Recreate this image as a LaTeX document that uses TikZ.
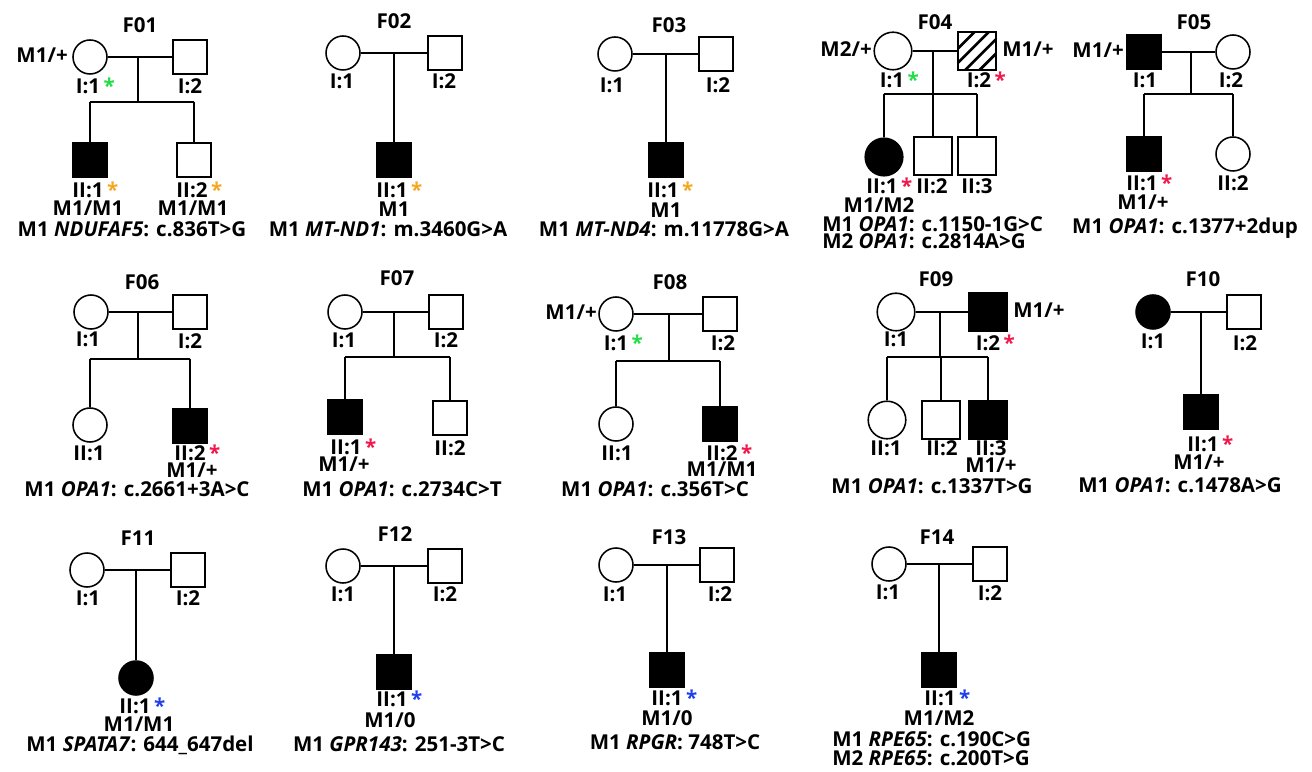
\documentclass[tikz,border=0pt]{standalone}
\usepackage{fontspec}
\setmainfont{Open Sans}
\usepackage{tikz}

\definecolor{astgreen}{HTML}{22DD44}
\definecolor{astorange}{HTML}{F5A623}
\definecolor{astred}{HTML}{F0184A}
\definecolor{astblue}{HTML}{1F3FEE}

% coloured star after an individual's number
\newcommand{\mkast}[1]{\rlap{\,\textcolor{#1}{\raisebox{-0.05ex}{*}}}}

\tikzset{
  ind/.style={draw, line width=1.1pt, inner sep=0pt, minimum size=8.5mm},
  male/.style={ind, rectangle},
  female/.style={ind, circle},
  aff/.style={fill=black},
  big/.style={minimum size=9.4mm},
  hatch/.style={path picture={
    \foreach \d in {-5.4,-1.8,1.8,5.4}
      \draw[line width=1.9pt] ([xshift=\d mm]path picture bounding box.center) ++(-5mm,-5mm) -- ++(10mm,10mm);
  }},
  lab/.style={inner sep=0pt, text height=0.72em, text depth=0pt, font=\bfseries\fontsize{14.6}{14.6}\selectfont},
  link/.style={line width=0.8pt},
}

\begin{document}
\begin{tikzpicture}[x=0.25mm, y=-0.25mm]
    \useasboundingbox (0,0) rectangle (1312,772);

    % F01
    \node[lab] (f01t) at (140,27) {F01};
    \node[female] (f01a) at (90,57) {};
    \node[male] (f01b) at (190,57) {};
    \coordinate (f01m) at (138,57);
    \coordinate (f01s) at (138,102);
    \node[male,aff] (f01c) at (90,160) {};
    \node[male] (f01d) at (194,160) {};
    \draw[link] (f01a) -- (f01b);
    \draw[link] (f01m) -- (f01s);
    \draw[link] (f01c |- f01s) -- (f01d |- f01s);
    \draw[link] (f01c |- f01s) -- (f01c);
    \draw[link] (f01d |- f01s) -- (f01d);
    \node[lab,anchor=east] (f01ag) at (68,57) {M1/+};
    \node[lab] (f01al) at (88,88) {I:1\mkast{astgreen}};
    \node[lab] (f01bl) at (190,88) {I:2};
    \node[lab] (f01cl) at (88,192) {II:1\mkast{astorange}};
    \node[lab] (f01dl) at (192,192) {II:2\mkast{astorange}};
    \node[lab] (f01cg) at (88,210) {M1/M1};
    \node[lab] (f01dg) at (193,210) {M1/M1};
    \node[lab] (f01v) at (132,231) {M1 \textit{NDUFAF5}: c.836T>G};

    % F02
    \node[lab] (f02t) at (394,23) {F02};
    \node[female] (f02a) at (343,53) {};
    \node[male] (f02b) at (445,53) {};
    \coordinate (f02m) at (394,53);
    \node[male,aff] (f02c) at (394,160) {};
    \draw[link] (f02a) -- (f02b);
    \draw[link] (f02m) -- (f02c);
    \node[lab] (f02al) at (342,83) {I:1};
    \node[lab] (f02bl) at (444,83) {I:2};
    \node[lab] (f02cl) at (392,192) {II:1\mkast{astorange}};
    \node[lab] (f02cg) at (394,211) {M1};
    \node[lab] (f02v) at (388,231) {M1 \textit{MT-ND1}: m.3460G>A};

    % F03
    \node[lab] (f03t) at (669,27) {F03};
    \node[female] (f03a) at (615,54) {};
    \node[male] (f03b) at (716,54) {};
    \coordinate (f03m) at (666,54);
    \node[male,aff] (f03c) at (666,160) {};
    \draw[link] (f03a) -- (f03b);
    \draw[link] (f03m) -- (f03c);
    \node[lab] (f03al) at (612,87) {I:1};
    \node[lab] (f03bl) at (718,87) {I:2};
    \node[lab] (f03cl) at (663,192) {II:1\mkast{astorange}};
    \node[lab] (f03cg) at (666,212) {M1};
    \node[lab] (f03v) at (664,231) {M1 \textit{MT-ND4}: m.11778G>A};

    % F04
    \node[lab] (f04t) at (935,24) {F04};
    \node[female,big] (f04a) at (893,51) {};
    \node[male,big,hatch] (f04b) at (977,51) {};
    \coordinate (f04m) at (933,51);
    \coordinate (f04s) at (933,94);
    \node[female,big,aff] (f04c) at (884,157) {};
    \node[male,big] (f04d) at (933,156) {};
    \node[male,big] (f04e) at (977,156) {};
    \draw[link] (f04a) -- (f04b);
    \draw[link] (f04m) -- (f04d);
    \draw[link] (f04c |- f04s) -- (f04e |- f04s);
    \draw[link] (f04c |- f04s) -- (f04c);
    \draw[link] (f04e |- f04s) -- (f04e);
    \node[lab,anchor=east] (f04ag) at (872,51) {M2/+};
    \node[lab,anchor=west] (f04bg) at (1002,51) {M1/+};
    \node[lab] (f04al) at (892,82) {I:1\mkast{astgreen}};
    \node[lab] (f04bl) at (979,82) {I:2\mkast{astred}};
    \node[lab] (f04cl) at (882,188) {II:1\mkast{astred}};
    \node[lab] (f04dl) at (932,188) {II:2};
    \node[lab] (f04el) at (977,188) {II:3};
    \node[lab] (f04cg) at (879,207) {M1/M2};
    \node[lab,anchor=west] (f04v) at (822,226) {M1 \textit{OPA1}: c.1150-1G>C};
    \node[lab,anchor=west] (f04w) at (822,243) {M2 \textit{OPA1}: c.2814A>G};

    % F05
    \node[lab] (f05t) at (1194,24) {F05};
    \node[male,aff] (f05a) at (1144,52) {};
    \node[female] (f05b) at (1233,52) {};
    \coordinate (f05m) at (1191,52);
    \coordinate (f05s) at (1191,94);
    \node[male,aff] (f05c) at (1144,154) {};
    \node[female] (f05d) at (1233,154) {};
    \draw[link] (f05a) -- (f05b);
    \draw[link] (f05m) -- (f05s);
    \draw[link] (f05c |- f05s) -- (f05d |- f05s);
    \draw[link] (f05c |- f05s) -- (f05c);
    \draw[link] (f05d |- f05s) -- (f05d);
    \node[lab,anchor=east] (f05ag) at (1124,52) {M1/+};
    \node[lab] (f05al) at (1145,82) {I:1};
    \node[lab] (f05bl) at (1231,82) {I:2};
    \node[lab] (f05cl) at (1142,185) {II:1\mkast{astred}};
    \node[lab] (f05dl) at (1233,185) {II:2};
    \node[lab] (f05cg) at (1143,204) {M1/+};
    \node[lab] (f05v) at (1185,228) {M1 \textit{OPA1}: c.1377+2dup};

    % F06
    \node[lab] (f06t) at (142,284) {F06};
    \node[female] (f06a) at (91,312) {};
    \node[male] (f06b) at (190,312) {};
    \coordinate (f06m) at (138,312);
    \coordinate (f06s) at (138,359);
    \node[female] (f06c) at (90,425) {};
    \node[male,aff] (f06d) at (190,426) {};
    \draw[link] (f06a) -- (f06b);
    \draw[link] (f06m) -- (f06s);
    \draw[link] (f06c |- f06s) -- (f06d |- f06s);
    \draw[link] (f06c |- f06s) -- (f06c);
    \draw[link] (f06d |- f06s) -- (f06d);
    \node[lab] (f06al) at (88,341) {I:1};
    \node[lab] (f06bl) at (190,343) {I:2};
    \node[lab] (f06cl) at (89,455) {II:1};
    \node[lab] (f06dl) at (190,455) {II:2\mkast{astred}};
    \node[lab] (f06dg) at (192,472) {M1/+};
    \node[lab] (f06v) at (137,491) {M1 \textit{OPA1}: c.2661+3A>C};

    % F07
    \node[lab] (f07t) at (397,280) {F07};
    \node[female] (f07a) at (345,312) {};
    \node[male] (f07b) at (446,312) {};
    \coordinate (f07m) at (394,312);
    \coordinate (f07s) at (394,357);
    \node[male,aff] (f07c) at (345,417) {};
    \node[male] (f07d) at (450,418) {};
    \draw[link] (f07a) -- (f07b);
    \draw[link] (f07m) -- (f07s);
    \draw[link] (f07c |- f07s) -- (f07d |- f07s);
    \draw[link] (f07c |- f07s) -- (f07c);
    \draw[link] (f07d |- f07s) -- (f07d);
    \node[lab] (f07al) at (344,342) {I:1};
    \node[lab] (f07bl) at (446,342) {I:2};
    \node[lab] (f07cl) at (346,449) {II:1\mkast{astred}};
    \node[lab] (f07dl) at (450,450) {II:2};
    \node[lab] (f07cg) at (344,466) {M1/+};
    \node[lab] (f07v) at (402,491) {M1 \textit{OPA1}: c.2734C>T};

    % F08
    \node[lab] (f08t) at (670,284) {F08};
    \node[female] (f08a) at (616,314) {};
    \node[male] (f08b) at (720,314) {};
    \coordinate (f08m) at (669,314);
    \coordinate (f08s) at (669,361);
    \node[female] (f08c) at (616,424) {};
    \node[male,aff] (f08d) at (720,424) {};
    \draw[link] (f08a) -- (f08b);
    \draw[link] (f08m) -- (f08s);
    \draw[link] (f08c |- f08s) -- (f08d |- f08s);
    \draw[link] (f08c |- f08s) -- (f08c);
    \draw[link] (f08d |- f08s) -- (f08d);
    \node[lab,anchor=east] (f08ag) at (597,314) {M1/+};
    \node[lab] (f08al) at (616,345) {I:1\mkast{astgreen}};
    \node[lab] (f08bl) at (723,345) {I:2};
    \node[lab] (f08cl) at (617,455) {II:1};
    \node[lab] (f08dl) at (722,455) {II:2\mkast{astred}};
    \node[lab] (f08dg) at (722,471) {M1/M1};
    \node[lab] (f08v) at (655,491) {M1 \textit{OPA1}: c.356T>C};

    % F09
    \node[lab] (f09t) at (936,281) {F09};
    \node[female,big] (f09a) at (896,312) {};
    \node[male,big,aff] (f09b) at (988,312) {};
    \coordinate (f09m) at (940,312);
    \coordinate (f09s) at (940,357);
    \node[female,big] (f09c) at (887,420) {};
    \node[male,big] (f09d) at (941,420) {};
    \node[male,big,aff] (f09e) at (988,420) {};
    \draw[link] (f09a) -- (f09b);
    \draw[link] (f09m) -- (f09s);
    \draw[link] (f09c |- f09s) -- (f09e |- f09s);
    \draw[link] (f09c |- f09s) -- (f09c);
    \draw[link] (f09d |- f09s) -- (f09d);
    \draw[link] (f09e |- f09s) -- (f09e);
    \node[lab,anchor=west] (f09bg) at (1013,312) {M1/+};
    \node[lab] (f09al) at (896,341) {I:1};
    \node[lab] (f09bl) at (988,345) {I:2\mkast{astred}};
    \node[lab] (f09cl) at (886,450) {II:1};
    \node[lab] (f09dl) at (942,450) {II:2};
    \node[lab] (f09el) at (991,450) {II:3};
    \node[lab] (f09eg) at (991,467) {M1/+};
    \node[lab] (f09v) at (932,488) {M1 \textit{OPA1}: c.1337T>G};

    % F10
    \node[lab] (f10t) at (1203,281) {F10};
    \node[female,aff] (f10a) at (1153,312) {};
    \node[male] (f10b) at (1244,312) {};
    \coordinate (f10m) at (1201,312);
    \node[male,aff] (f10c) at (1201,412) {};
    \draw[link] (f10a) -- (f10b);
    \draw[link] (f10m) -- (f10c);
    \node[lab] (f10al) at (1153,343) {I:1};
    \node[lab] (f10bl) at (1245,345) {I:2};
    \node[lab] (f10cl) at (1203,446) {II:1\mkast{astred}};
    \node[lab] (f10cg) at (1199,464) {M1/+};
    \node[lab] (f10v) at (1180,487) {M1 \textit{OPA1}: c.1478A>G};

    % F11
    \node[lab] (f11t) at (138,540) {F11};
    \node[female] (f11a) at (87,570) {};
    \node[male] (f11b) at (188,570) {};
    \coordinate (f11m) at (136,570);
    \node[female,aff] (f11c) at (136,678) {};
    \draw[link] (f11a) -- (f11b);
    \draw[link] (f11m) -- (f11c);
    \node[lab] (f11al) at (88,600) {I:1};
    \node[lab] (f11bl) at (188,600) {I:2};
    \node[lab] (f11cl) at (135,708) {II:1\mkast{astblue}};
    \node[lab] (f11cg) at (139,726) {M1/M1};
    \node[lab] (f11v) at (140,746) {M1 \textit{SPATA7}: 644\_647del};

    % F12
    \node[lab] (f12t) at (395,536) {F12};
    \node[female] (f12a) at (343,566) {};
    \node[male] (f12b) at (445,566) {};
    \coordinate (f12m) at (394,566);
    \node[male,aff] (f12c) at (394,672) {};
    \draw[link] (f12a) -- (f12b);
    \draw[link] (f12m) -- (f12c);
    \node[lab] (f12al) at (343,596) {I:1};
    \node[lab] (f12bl) at (445,596) {I:2};
    \node[lab] (f12cl) at (392,701) {II:1\mkast{astblue}};
    \node[lab] (f12cg) at (390,722) {M1/0};
    \node[lab] (f12v) at (399,746) {M1 \textit{GPR143}: 251-3T>C};

    % F13
    \node[lab] (f13t) at (669,539) {F13};
    \node[female] (f13a) at (616,565) {};
    \node[male] (f13b) at (717,565) {};
    \coordinate (f13m) at (667,565);
    \node[male,aff] (f13c) at (667,670) {};
    \draw[link] (f13a) -- (f13b);
    \draw[link] (f13m) -- (f13c);
    \node[lab] (f13al) at (615,596) {I:1};
    \node[lab] (f13bl) at (720,596) {I:2};
    \node[lab] (f13cl) at (667,700) {II:1\mkast{astblue}};
    \node[lab] (f13cg) at (667,720) {M1/0};
    \node[lab] (f13v) at (675,744) {M1 \textit{RPGR}: 748T>C};

    % F14
    \node[lab] (f14t) at (937,539) {F14};
    \node[female] (f14a) at (889,564) {};
    \node[male] (f14b) at (990,564) {};
    \coordinate (f14m) at (939,564);
    \node[male,aff] (f14c) at (939,670) {};
    \draw[link] (f14a) -- (f14b);
    \draw[link] (f14m) -- (f14c);
    \node[lab] (f14al) at (888,594) {I:1};
    \node[lab] (f14bl) at (990,595) {I:2};
    \node[lab] (f14cl) at (940,700) {II:1\mkast{astblue}};
    \node[lab] (f14cg) at (939,720) {M1/M2};
    \node[lab,anchor=west] (f14v) at (832,741) {M1 \textit{RPE65}: c.190C>G};
    \node[lab,anchor=west] (f14w) at (832,760) {M2 \textit{RPE65}: c.200T>G};
\end{tikzpicture}
\end{document}
